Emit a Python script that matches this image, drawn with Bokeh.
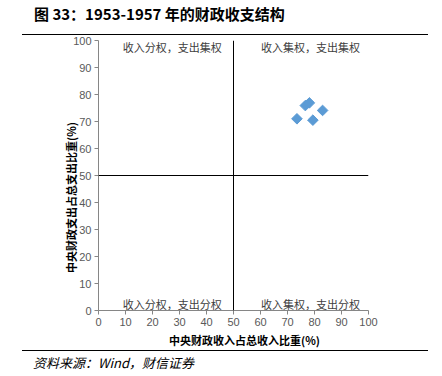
from bokeh.plotting import figure
from bokeh.models import Span, FixedTicker, Range1d, ColumnDataSource, Div
from bokeh.layouts import column
from bokeh.embed import file_html
from bokeh.resources import INLINE
from bokeh.core.properties import value

# ---- data ----
years = ["1953", "1954", "1955", "1956", "1957"]
revenue_share = [83.0, 76.6, 78.1, 79.4, 73.5]       # central revenue share of total (%)
expenditure_share = [74.1, 75.9, 76.9, 70.5, 71.0]   # central expenditure share of total (%)
axis_ticks = [0, 10, 20, 30, 40, 50, 60, 70, 80, 90, 100]
quadrant_labels = ["收入分权，支出集权", "收入集权，支出集权",
                   "收入分权，支出分权", "收入集权，支出分权"]
title_text = "图 33：1953-1957 年的财政收支结构"
source_text = "资料来源：Wind，财信证券"
x_label = "\u3000\u3000中央财政收入占总收入比重(%)"
y_label = "中央财政支出占总支出比重(%)\u3000\u3000\u3000\u3000"

CJK = "Noto Sans CJK SC"
W = 442

# ---- title strip ----
top = Div(width=W, height=36, margin=0, text=(
    '<div style="width:406px;height:35px;margin:0 0 0 22px;padding:0 0 0 12px;'
    'border-bottom:1.5px solid #000;box-sizing:border-box;'
    "font-family:'Noto Sans CJK SC';font-weight:bold;font-size:15px;"
    'line-height:28px;color:#000;white-space:nowrap;">' + title_text + '</div>'))

# ---- main chart ----
p = figure(width=W, height=314, x_range=Range1d(0, 100), y_range=Range1d(0, 100),
           output_backend="svg", toolbar_location=None,
           min_border_left=98, min_border_right=74, min_border_top=4, min_border_bottom=40)
p.grid.visible = False
p.outline_line_color = None
for ax in (p.xaxis[0], p.yaxis[0]):
    ax.ticker = FixedTicker(ticks=axis_ticks)
    ax.axis_line_color = "#868686"
    ax.major_tick_line_color = "#868686"
    ax.major_tick_out = 4
    ax.major_tick_in = 0
    ax.minor_tick_line_color = None
    ax.major_label_text_font = "Liberation Sans"
    ax.major_label_text_font_size = "11px"
    ax.major_label_text_color = "#595959"
    ax.major_label_standoff = 3
    ax.axis_label_text_font = CJK
    ax.axis_label_text_font_style = "bold"
    ax.axis_label_text_font_size = "11px"
    ax.axis_label_text_color = "#000000"
p.xaxis.axis_label = x_label
p.yaxis.axis_label = y_label
p.xaxis.axis_label_standoff = 3
p.yaxis.axis_label_standoff = -9

p.add_layout(Span(location=50, dimension="height", line_color="#000000", line_width=1))
p.add_layout(Span(location=50, dimension="width", line_color="#000000", line_width=1))

qx = [27.3, 78.5, 27.3, 78.5]
qy = [97.6, 97.6, 2.4, 2.4]
p.text(x=qx, y=qy, text=quadrant_labels, text_font=value(CJK), text_font_size="11px",
       text_align="center", text_baseline="middle", text_color="#404040")

src = ColumnDataSource(dict(x=revenue_share, y=expenditure_share, year=years))
p.scatter("x", "y", source=src, marker="square", size=7.5, angle=0.785398,
          fill_color="#5B9BD5", line_color="#5B9BD5")

# ---- source strip ----
bot = Div(width=W, height=26, margin=0, text=(
    '<div style="width:406px;height:26px;margin:0 0 0 22px;padding:0 0 0 11px;'
    'border-top:1.5px solid #000;box-sizing:border-box;'
    "font-family:'Noto Sans CJK SC';font-style:italic;font-size:13px;"
    'line-height:24px;color:#000;white-space:nowrap;">' + source_text + '</div>'))

layout = column(top, p, bot, spacing=0)
open("out.html", "w").write(file_html(layout, INLINE))
